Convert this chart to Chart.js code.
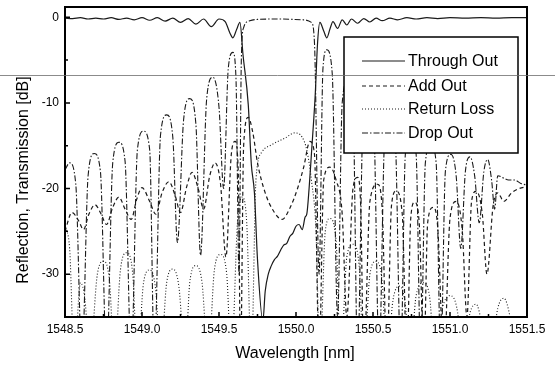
<!DOCTYPE html>
<html>
<head>
<meta charset="utf-8">
<script src="https://cdn.jsdelivr.net/npm/chart.js@4/dist/chart.umd.min.js"></script>
<style>
  html, body { margin: 0; padding: 0; background: #fff; }
  #wrap { width: 555px; height: 368px; }
</style>
</head>
<body>
<div id="wrap"><canvas id="spec" width="555" height="368"></canvas></div>
<script>
const seriesNames = ["Through Out", "Add Out", "Return Loss", "Drop Out"];
const xTicks = [1548.5, 1549.0, 1549.5, 1550.0, 1550.5, 1551.0, 1551.5];
const yTicks = [-30, -20, -10, 0];

// Through Out (solid)
const wlThrough = [1548.50, 1548.55, 1548.60, 1548.65, 1548.70, 1548.75, 1548.80, 1548.85, 1548.90, 1548.95,
  1549.00, 1549.05, 1549.10, 1549.15, 1549.20, 1549.25, 1549.30, 1549.35, 1549.40, 1549.45,
  1549.50, 1549.54, 1549.57, 1549.59, 1549.615, 1549.636, 1549.656, 1549.69, 1549.71, 1549.73,
  1549.75, 1549.785, 1549.80, 1549.82, 1549.84, 1549.86, 1549.88, 1549.90, 1549.92, 1549.94,
  1549.96, 1549.98, 1550.00, 1550.02, 1550.04, 1550.06, 1550.07, 1550.085, 1550.10, 1550.125,
  1550.14, 1550.155, 1550.18, 1550.20, 1550.22, 1550.24, 1550.27, 1550.30, 1550.33, 1550.36,
  1550.40, 1550.44, 1550.48, 1550.52, 1550.56, 1550.61, 1550.66, 1550.72, 1550.78, 1550.85,
  1550.92, 1551.00, 1551.10, 1551.20, 1551.30, 1551.40, 1551.50];
const dbThrough = [-0.1, -0.15, -0.05, -0.2, -0.1, -0.2, -0.05, -0.25, -0.1, -0.3,
  -0.05, -0.35, -0.05, -0.45, -0.1, -0.6, -0.15, -0.8, -0.2, -1.1,
  -0.2, -0.5, -1.8, -2.4, -1.4, -0.6, -4.4, -10.2, -17.2, -20.5,
  -28.3, -35.5, -32, -30, -29, -28.3, -27.9, -27.2, -26.6, -26.4,
  -25.6, -25.2, -24.4, -24.2, -24.8, -23.3, -23, -20, -16, -9,
  -3, -0.6, -1.6, -2.4, -1.4, -0.5, -1.3, -0.3, -0.9, -0.2,
  -0.7, -0.15, -0.55, -0.1, -0.4, -0.1, -0.3, -0.05, -0.2, -0.05,
  -0.15, -0.05, -0.1, -0.05, -0.1, -0.05, -0.05];

// Add Out (dashed)
const wlAdd = [1548.50, 1548.545, 1548.59, 1548.62, 1548.655, 1548.695, 1548.735, 1548.77, 1548.81, 1548.85,
  1548.89, 1548.93, 1548.965, 1549.00, 1549.05, 1549.09, 1549.13, 1549.175, 1549.215, 1549.25,
  1549.29, 1549.325, 1549.365, 1549.40, 1549.44, 1549.475, 1549.51, 1549.545, 1549.58, 1549.605,
  1549.625, 1549.64, 1549.66, 1549.69, 1549.72, 1549.75, 1549.80, 1549.86, 1549.91, 1549.96,
  1550.01, 1550.05, 1550.09, 1550.12, 1550.15, 1550.18, 1550.22, 1550.26, 1550.30, 1550.33,
  1550.37, 1550.40, 1550.42, 1550.44, 1550.48, 1550.53, 1550.56, 1550.59, 1550.62, 1550.65,
  1550.69, 1550.72, 1550.745, 1550.77, 1550.80, 1550.83, 1550.855, 1550.89, 1550.92, 1550.96,
  1551.00, 1551.04, 1551.08, 1551.11, 1551.14, 1551.17, 1551.21, 1551.24, 1551.28, 1551.31,
  1551.35, 1551.40, 1551.45, 1551.50];
const dbAdd = [-25.0, -22.8, -23.8, -24.8, -23.0, -21.9, -23.0, -24.2, -22.2, -21.0,
  -22.4, -23.6, -21.3, -19.9, -21.5, -23.0, -20.5, -19.2, -20.8, -22.8,
  -19.8, -18.1, -20.0, -22.4, -18.5, -17.0, -19.5, -28, -16, -14.5,
  -18, -40, -15, -11.7, -13.5, -17.0, -20.5, -22.8, -23.6, -22.3,
  -20.0, -17.5, -14.5, -16, -40, -19, -17.5, -19, -23, -35,
  -20, -18.7, -22, -40, -21.5, -19.5, -22.5, -40, -22, -20.3,
  -23, -40, -23.5, -21.6, -24, -40, -24, -22.2, -24.5, -40,
  -23.5, -21.5, -25, -35, -21.5, -20.3, -23, -30, -22, -20.5,
  -21.5, -20.5, -20, -19.8];

// Return Loss (dotted)
const wlReturn = [1548.50, 1548.53, 1548.56, 1548.60, 1548.63, 1548.66, 1548.71, 1548.75, 1548.79, 1548.82,
  1548.86, 1548.90, 1548.94, 1548.97, 1549.01, 1549.05, 1549.09, 1549.12, 1549.16, 1549.20,
  1549.24, 1549.28, 1549.31, 1549.35, 1549.39, 1549.43, 1549.47, 1549.51, 1549.55, 1549.58,
  1549.62, 1549.65, 1549.68, 1549.71, 1549.74, 1549.78, 1549.84, 1549.93, 1549.99, 1550.04,
  1550.07, 1550.10, 1550.13, 1550.155, 1550.19, 1550.22, 1550.26, 1550.29, 1550.33, 1550.37,
  1550.41, 1550.44, 1550.48, 1550.52, 1550.56, 1550.59, 1550.63, 1550.67, 1550.71, 1550.74,
  1550.78, 1550.83, 1550.87, 1550.90, 1550.95, 1551.00, 1551.05, 1551.08, 1551.13, 1551.17,
  1551.21, 1551.26, 1551.31, 1551.35, 1551.39, 1551.43, 1551.47, 1551.50];
const dbReturn = [-24.5, -27, -40, -31, -33, -40, -30, -28.5, -31, -40,
  -29.5, -27.5, -30, -40, -31, -29.5, -32, -40, -31, -29.4,
  -31.5, -40, -31, -29.0, -31, -40, -29.5, -27.7, -30, -40,
  -24, -21, -24, -40, -19, -15.7, -14.9, -14.1, -13.5, -14,
  -15.5, -19, -25, -40, -25, -23.5, -26, -40, -28, -26.5,
  -29, -40, -30, -28.5, -31, -40, -33, -31.4, -33.5, -40,
  -32.5, -31, -33, -40, -34, -32.5, -34.5, -40, -34.5, -33.5,
  -36, -40, -34, -32.8, -35, -40, -36, -35.5];

// Drop Out (dash-dot)
const wlDrop = [1548.50, 1548.53, 1548.57, 1548.61, 1548.65, 1548.69, 1548.73, 1548.77, 1548.81, 1548.85,
  1548.89, 1548.93, 1548.97, 1549.01, 1549.05, 1549.08, 1549.12, 1549.16, 1549.20, 1549.23,
  1549.27, 1549.31, 1549.35, 1549.38, 1549.42, 1549.46, 1549.50, 1549.53, 1549.56, 1549.59,
  1549.61, 1549.63, 1549.645, 1549.66, 1549.70, 1549.75, 1549.90, 1550.05, 1550.10, 1550.12,
  1550.15, 1550.175, 1550.20, 1550.235, 1550.27, 1550.30, 1550.335, 1550.37, 1550.40, 1550.435,
  1550.47, 1550.505, 1550.54, 1550.575, 1550.61, 1550.645, 1550.68, 1550.71, 1550.745, 1550.78,
  1550.81, 1550.84, 1550.875, 1550.91, 1550.94, 1550.97, 1551.005, 1551.04, 1551.07, 1551.10,
  1551.13, 1551.16, 1551.19, 1551.22, 1551.245, 1551.27, 1551.29, 1551.31, 1551.35, 1551.38,
  1551.42, 1551.46, 1551.50];
const dbDrop = [-17.8, -17.0, -19.5, -40, -18.5, -15.9, -18.0, -40, -17, -14.6,
  -16.8, -40, -15.5, -13.3, -15.5, -40, -13.8, -11.4, -14, -26.3,
  -12, -9.5, -12.5, -27.8, -9.5, -7.0, -10.5, -20, -6.0, -4.1,
  -7, -30, -5, -1.2, -0.4, -0.25, -0.2, -0.3, -0.6, -3,
  -30, -6, -3.8, -6.5, -35, -10, -7.5, -10, -40, -12.5,
  -10, -12.5, -40, -14.5, -12, -14.5, -40, -16, -13.5, -16,
  -40, -17, -14.8, -17, -40, -18, -16, -18.5, -27, -18,
  -16.3, -18.5, -24, -18, -16.6, -19, -22.4, -18.5, -18.8, -19,
  -19, -19.4, -19.6];

const styles = [
  { dash: [], width: 1.2 },
  { dash: [4, 3], width: 1.2 },
  { dash: [1, 2], width: 1.1 },
  { dash: [6, 2, 1.5, 2], width: 1.1 }
];
const inkColor = "#1a1a1a";
const fontName = "'Liberation Sans', Arial, sans-serif";

function pts(xs, ys) {
  return xs.map((x, i) => ({ x: x, y: ys[i] }));
}

const sets = [
  pts(wlThrough, dbThrough),
  pts(wlAdd, dbAdd),
  pts(wlReturn, dbReturn),
  pts(wlDrop, dbDrop)
];

const framePlugin = {
  id: "frame",
  afterDraw(chart) {
    const ctx = chart.ctx;
    const a = chart.chartArea;
    const xs = chart.scales.x;
    const ys = chart.scales.y;
    ctx.save();
    ctx.setLineDash([]);

    // box around plot
    ctx.strokeStyle = "#000";
    ctx.lineWidth = 2;
    ctx.strokeRect(a.left, a.top, a.right - a.left, a.bottom - a.top);

    // inward ticks
    ctx.lineWidth = 1.5;
    ctx.beginPath();
    for (let v = 1548.5; v <= 1551.5001; v += 0.25) {
      const px = xs.getPixelForValue(v);
      const major = Math.abs(v * 2 - Math.round(v * 2)) < 1e-6;
      const len = major ? 5 : 3;
      ctx.moveTo(px, a.bottom);
      ctx.lineTo(px, a.bottom - len);
    }
    for (let v = -35; v <= 0; v += 5) {
      const py = ys.getPixelForValue(v);
      const len = v % 10 === 0 ? 5 : 3;
      ctx.moveTo(a.left, py);
      ctx.lineTo(a.left + len, py);
    }
    ctx.stroke();

    // axis titles
    ctx.fillStyle = "#000";
    ctx.font = "16px " + fontName;
    ctx.textAlign = "center";
    ctx.textBaseline = "alphabetic";
    ctx.fillText("Wavelength [nm]", 295, 358);
    ctx.save();
    ctx.translate(28, 180);
    ctx.rotate(-Math.PI / 2);
    ctx.fillText("Reflection, Transmission [dB]", 0, 0);
    ctx.restore();

    // legend box
    const bx = 344, by = 37, bw = 174, bh = 116;
    ctx.fillStyle = "#fff";
    ctx.fillRect(bx, by, bw, bh);
    ctx.strokeStyle = "#000";
    ctx.lineWidth = 1.5;
    ctx.strokeRect(bx, by, bw, bh);
    const rows = [61, 86, 109, 133];
    ctx.font = "16px " + fontName;
    ctx.textAlign = "left";
    ctx.textBaseline = "middle";
    chart.data.datasets.forEach((ds, i) => {
      ctx.strokeStyle = inkColor;
      ctx.lineWidth = styles[i].width;
      ctx.setLineDash(styles[i].dash);
      ctx.beginPath();
      ctx.moveTo(362, rows[i]);
      ctx.lineTo(405, rows[i]);
      ctx.stroke();
      ctx.setLineDash([]);
      ctx.fillStyle = "#000";
      ctx.fillText(ds.label, 408, rows[i] + 1);
    });

    // scanner streak across the page
    ctx.strokeStyle = "rgba(110,110,110,0.8)";
    ctx.lineWidth = 1;
    ctx.beginPath();
    ctx.moveTo(0, 75.5);
    ctx.lineTo(555, 75.5);
    ctx.stroke();
    ctx.restore();
  }
};

const ctx = document.getElementById("spec").getContext("2d");
new Chart(ctx, {
  type: "line",
  data: {
    datasets: sets.map((d, i) => ({
      label: seriesNames[i],
      data: d,
      borderColor: inkColor,
      borderWidth: styles[i].width,
      borderDash: styles[i].dash,
      pointRadius: 0,
      fill: false,
      cubicInterpolationMode: "monotone"
    }))
  },
  options: {
    responsive: false,
    animation: false,
    events: [],
    layout: { padding: { left: 0, right: 28, top: 7, bottom: 0 } },
    plugins: {
      legend: { display: false },
      tooltip: { enabled: false }
    },
    scales: {
      x: {
        type: "linear",
        min: 1548.5,
        max: 1551.5,
        grid: { display: false, drawTicks: false, tickLength: 0 },
        border: { display: false },
        afterFit(scale) { scale.height = 51; },
        afterBuildTicks(scale) { scale.ticks = xTicks.map(v => ({ value: v })); },
        ticks: {
          padding: 5,
          maxRotation: 0,
          color: "#000",
          font: { family: fontName, size: 12 },
          callback: v => Number(v).toFixed(1)
        }
      },
      y: {
        type: "linear",
        min: -35,
        max: 1.2,
        grid: { display: false, drawTicks: false, tickLength: 0 },
        border: { display: false },
        afterFit(scale) {
          scale.width = 65;
          scale.paddingTop = 0;
          scale.paddingBottom = 0;
        },
        afterBuildTicks(scale) { scale.ticks = yTicks.map(v => ({ value: v })); },
        ticks: {
          padding: 6,
          color: "#000",
          font: { family: fontName, size: 12 }
        }
      }
    }
  },
  plugins: [framePlugin]
});
</script>
</body>
</html>
